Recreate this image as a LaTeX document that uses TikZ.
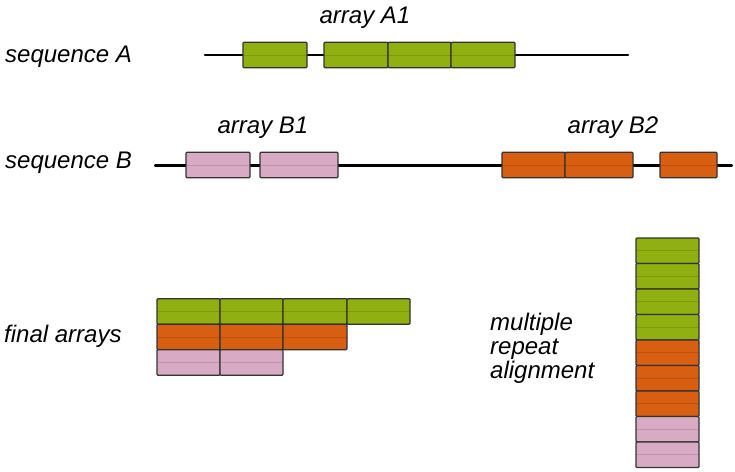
\documentclass[tikz,border=0pt]{standalone}
\usepackage{fontspec}
\setmainfont{Liberation Sans}
\usetikzlibrary{positioning}

\begin{document}
\begin{tikzpicture}
		[x=1pt,y=-1pt,line cap=round,
		%Styles
		label text/.style={font=\fontsize{24}{24}\selectfont\itshape,inner sep=0pt},
		sequence line/.style={line width=2.2pt},
		repeat unit/.style={draw=black!80,line width=1.2pt,rounded corners=1pt,
			inner sep=0pt,outer sep=0pt,minimum height=25.5pt,minimum width=#1,
			path picture={\draw[black,opacity=0.12,line width=1pt]
				(path picture bounding box.west) -- (path picture bounding box.east);}},
		repeat unit/.default=63pt,
		green unit/.style={repeat unit=#1,fill=unitgreen},
		green unit/.default=63pt,
		orange unit/.style={repeat unit=#1,fill=unitorange},
		orange unit/.default=63pt,
		pink unit/.style={repeat unit=#1,fill=unitpink},
		pink unit/.default=63pt
		]
		
		%Colors
		\definecolor{unitgreen}{RGB}{143,176,16}	%repeats of array A1
		\definecolor{unitorange}{RGB}{216,94,18}	%repeats of array B2
		\definecolor{unitpink}{RGB}{216,170,196}	%repeats of array B1
		
		\useasboundingbox (0,0) rectangle (735,471);
		
		%Sequence A
		\coordinate (sA start) at (205,55);
		\coordinate (sA end) at (628,55);
		\draw[sequence line] (sA start) -- (sA end);
		\node[label text,anchor=base west] (seqA) at (5,62) {sequence A};
		\node[green unit=64pt] (a1) at (275,55) {};
		\node[green unit=64pt] (a2) at (356,55) {};
		\node[green unit,right=0pt of a2] (a3) {};
		\node[green unit=64pt,right=0pt of a3] (a4) {};
		\node[label text,anchor=base] (arrayA1) at (365,23) {array A1};
		
		%Sequence B
		\coordinate (sB start) at (155,165.5);
		\coordinate (sB end) at (732,165.5);
		\draw[sequence line] (sB start) -- (sB end);
		\node[label text,anchor=base west] (seqB) at (5,168) {sequence B};
		\node[pink unit=64pt] (b1) at (218,165) {};
		\node[pink unit=78pt] (b2) at (299,165) {};
		\node[label text,anchor=base] (arrayB1) at (263,133) {array B1};
		\node[orange unit] (b3) at (533.5,165) {};
		\node[orange unit=68pt,right=0pt of b3] (b4) {};
		\node[orange unit=57pt] (b5) at (688.5,165) {};
		\node[label text,anchor=base] (arrayB2) at (613,133) {array B2};
		
		%Final arrays
		\node[label text,anchor=base west] (final) at (4,342) {final arrays};
		\node[green unit] (fa1) at (188.5,311.5) {};
		\node[green unit,right=0pt of fa1] (fa2) {};
		\node[green unit=64pt,right=0pt of fa2] (fa3) {};
		\node[green unit,right=0pt of fa3] (fa4) {};
		\node[orange unit,below=0pt of fa1] (fb1) {};
		\node[orange unit,right=0pt of fb1] (fb2) {};
		\node[orange unit=64pt,right=0pt of fb2] (fb3) {};
		\node[pink unit,below=0pt of fb1] (fc1) {};
		\node[pink unit,right=0pt of fc1] (fc2) {};
		
		%Multiple repeat alignment (base is the last line)
		\node[label text,anchor=base west,align=left] (msa) at (490,378) {multiple\\repeat\\alignment};
		\node[green unit] (m1) at (667.5,250.75) {};
		\node[green unit,below=0pt of m1] (m2) {};
		\node[green unit,below=0pt of m2] (m3) {};
		\node[green unit,below=0pt of m3] (m4) {};
		\node[orange unit,below=0pt of m4] (m5) {};
		\node[orange unit,below=0pt of m5] (m6) {};
		\node[orange unit,below=0pt of m6] (m7) {};
		\node[pink unit,below=0pt of m7] (m8) {};
		\node[pink unit,below=0pt of m8] (m9) {};
	\end{tikzpicture}
\end{document}
